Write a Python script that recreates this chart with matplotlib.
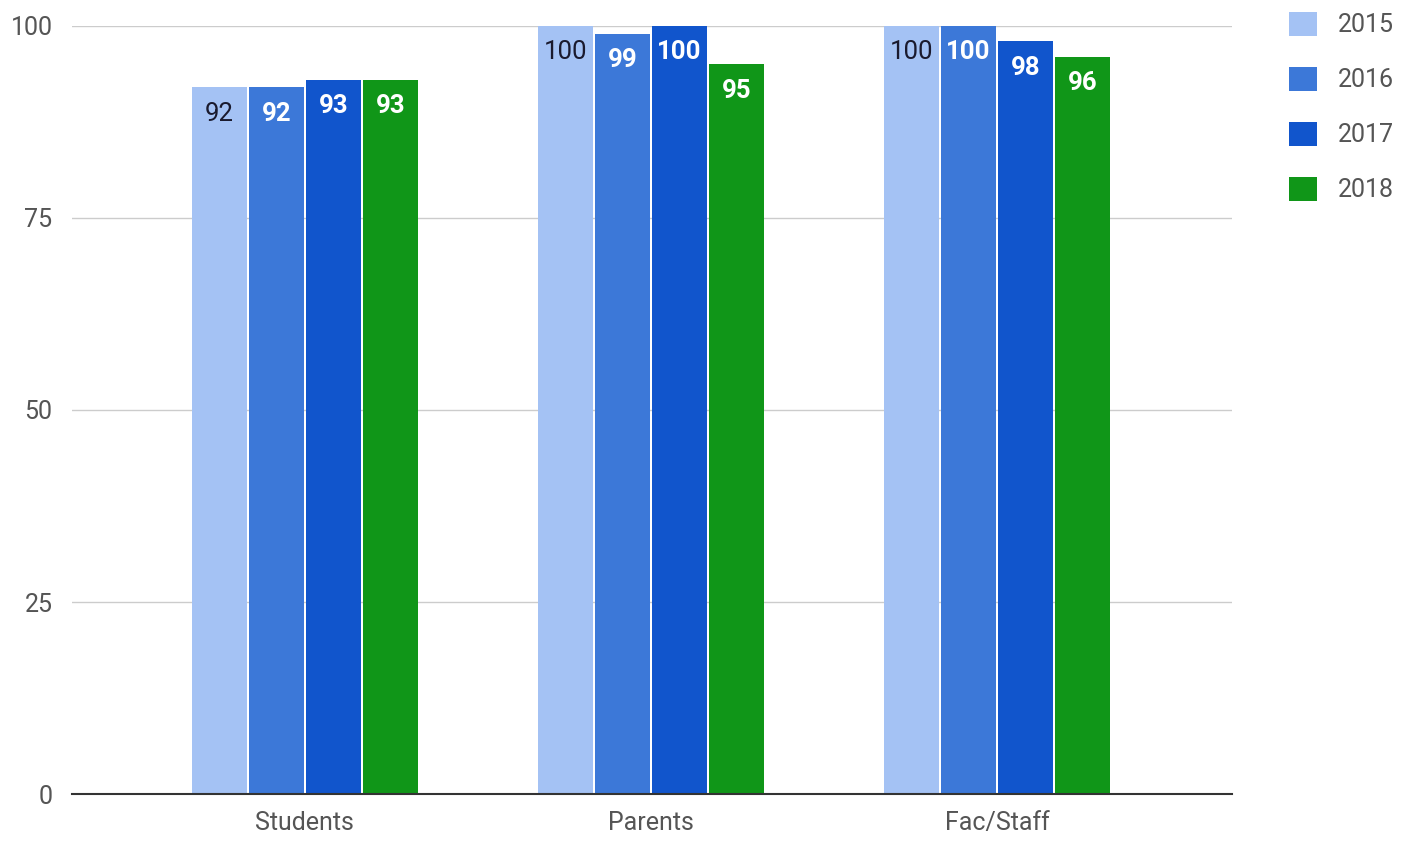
import matplotlib

matplotlib.use("Agg")
import matplotlib.pyplot as plt
import numpy as np

plt.rcParams["font.family"] = ["Roboto", "DejaVu Sans"]

# Survey results per group and year
groups = ["Students", "Parents", "Fac/Staff"]
years = ["2015", "2016", "2017", "2018"]
values = {
    "2015": [92, 100, 100],
    "2016": [92, 99, 100],
    "2017": [93, 100, 98],
    "2018": [93, 95, 96],
}
colors = ["#a4c2f4", "#3c78d8", "#1155cc", "#109618"]
label_colors = ["#1a1a2e", "white", "white", "white"]
yticks = [0, 25, 50, 75, 100]

fig = plt.figure(figsize=(14.09, 8.43), dpi=100)
ax = fig.add_axes([0.0511, 0.0581, 0.8233, 0.9111])

x = np.arange(len(groups))
step = 0.165
width = 0.159
offsets = (np.arange(len(years)) - 1.5) * step

for i, year in enumerate(years):
    bars = ax.bar(x + offsets[i], values[year], width=width, color=colors[i],
                  label=year, zorder=3)
    for rect, v in zip(bars, values[year]):
        ax.annotate(str(v), (rect.get_x() + rect.get_width() / 2, v),
                    xytext=(0, -19), textcoords="offset points",
                    ha="center", va="center", fontsize=18.5,
                    color=label_colors[i],
                    fontweight="normal" if i == 0 else "bold", zorder=4)

ax.set_xlim(-0.673, 2.679)
ax.set_ylim(0, 100)
ax.set_xticks(x)
ax.set_xticklabels(groups)
ax.set_yticks(yticks)
ax.tick_params(axis="both", length=0, labelsize=18, colors="#555555")
ax.tick_params(axis="x", pad=12)
ax.tick_params(axis="y", pad=14)
ax.grid(axis="y", color="#cccccc", linewidth=1, zorder=0)
for side in ("top", "right", "left"):
    ax.spines[side].set_visible(False)
ax.spines["bottom"].set_color("#333333")
ax.spines["bottom"].set_linewidth(1.5)
ax.spines["bottom"].set_zorder(5)

leg = fig.legend(loc="upper left", bbox_to_anchor=(0.899, 1.013), frameon=False,
                 fontsize=18, handlelength=1.1, handleheight=1.1,
                 labelspacing=1.18, handletextpad=0.85)
for t in leg.get_texts():
    t.set_color("#555555")

fig.savefig("out.png", dpi=100)
